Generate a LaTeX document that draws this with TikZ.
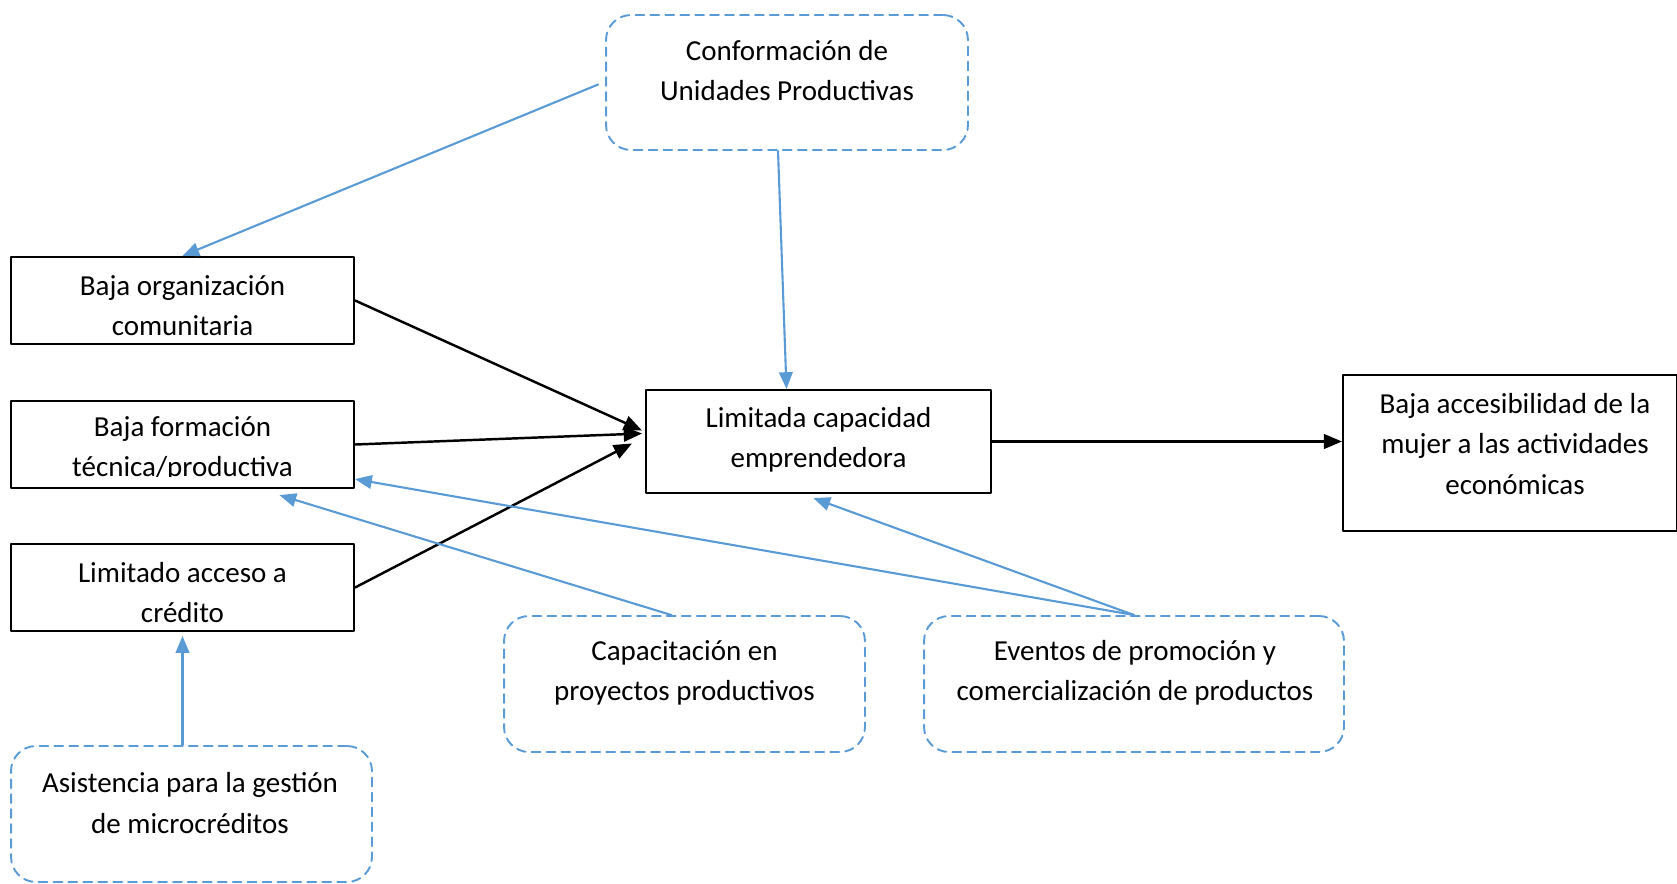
\documentclass[tikz,border=0pt]{standalone}
\usepackage{fontspec}
\setmainfont{Carlito}
\usetikzlibrary{arrows,calc}
\definecolor{azul}{RGB}{91,155,213}
\tikzset{
	caja/.style={draw=black,line width=1.3pt,inner sep=0pt},
	cajad/.style={draw=azul,line width=1.1pt,inner sep=0pt,dash pattern=on 5pt off 3.5pt,rounded corners=0.5cm},
	texto/.style={align=center,inner sep=0pt,font=\fontsize{16.5}{22.8}\selectfont},
	flecha/.style={->,line width=1.4pt,color=black},
	flechaazul/.style={->,line width=1.2pt,color=azul}
}
\begin{document}
\begin{tikzpicture}[line cap=round,line join=round,>=triangle 45,x=0.02cm,y=-0.02cm]
		\useasboundingbox (0,0) rectangle (1677,883);
		\node[caja,minimum width=6.86cm,minimum height=1.74cm] (org) at (182.5,300.5) {};
		\node[caja,minimum width=6.86cm,minimum height=1.74cm] (form) at (182.5,444.5) {};
		\node[caja,minimum width=6.86cm,minimum height=1.74cm] (acc) at (182.5,587.5) {};
		\node[caja,minimum width=6.9cm,minimum height=2.06cm] (lim) at (818.5,441.5) {};
		\node[caja,minimum width=6.68cm,minimum height=3.12cm] (mujer) at (1510,453) {};
		\node[cajad,minimum width=7.24cm,minimum height=2.7cm] (conf) at (787,82.5) {};
		\node[cajad,minimum width=7.22cm,minimum height=2.72cm] (cap) at (684.5,684) {};
		\node[cajad,minimum width=8.4cm,minimum height=2.72cm] (ev) at (1134,684) {};
		\node[cajad,minimum width=7.22cm,minimum height=2.72cm] (asis) at (191.5,814) {};
		\node[texto] (orgT) at (182.5,305.5) {Baja organización\\comunitaria};
		\begin{scope}
			\clip (form.north west) rectangle ($(form.south east)+(0,-13)$);
			\node[texto] (formT) at (182.5,448.5) {Baja formación\\técnica/productiva};
		\end{scope}
		\node[texto] (accT) at (182.5,592.5) {Limitado acceso a\\crédito};
		\node[texto] (limT) at (818.5,439.5) {Limitada capacidad\\emprendedora};
		\node[texto] (mujerT) at (1515,444) {Baja accesibilidad de la\\mujer a las actividades\\económicas};
		\node[texto] (confT) at (787,71) {Conformación de\\Unidades Productivas};
		\node[texto] (capT) at (684.5,672.5) {Capacitación en\\proyectos productivos};
		\node[texto] (evT) at (1135,672.5) {Eventos de promoción y\\comercialización de productos};
		\node[texto] (asisT) at (190,803) {Asistencia para la gestión\\de microcréditos};
		\draw[flecha] (org.east) -- ($(lim.west)+(-3,-11)$);
		\draw[flecha] (form.east) -- ($(lim.west)+(-3,-8)$);
		\draw[flecha] (acc.east) -- ($(lim.west)+(-13,2)$);
		\draw[flecha] (lim.east) -- (lim.east -| mujer.west);
		\draw[flechaazul] ($(conf.west)+(-7,2)$) -- (org.north);
		\draw[flechaazul] ($(conf.south)+(-9,0)$) -- ($(lim.north)+(-32,0)$);
		\draw[flechaazul] ($(cap.north)+(-13,0)$) -- ($(form.south)+(97,6)$);
		\draw[flechaazul] (ev.north) -- ($(form.south east)+(0,-10)$);
		\draw[flechaazul] (ev.north) -- ($(lim.south)+(-5,4)$);
		\draw[flechaazul] (asis.north -| acc.south) -- ($(acc.south)+(0,4)$);
	\end{tikzpicture}
\end{document}
